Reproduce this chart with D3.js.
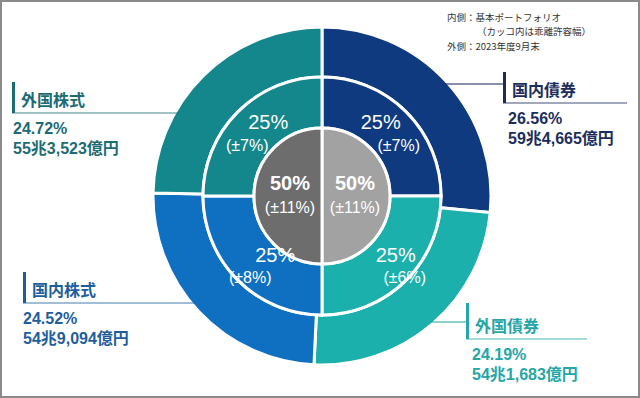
<!DOCTYPE html>
<html>
<head>
<meta charset="utf-8">
<script src="https://cdn.jsdelivr.net/npm/d3@7"></script>
<style>
  html, body { margin: 0; padding: 0; background: #fff; }
  svg { display: block; }
</style>
</head>
<body>
<script>
// data
var assets = ["国内債券", "外国債券", "国内株式", "外国株式"];
var actualShare = [26.56, 24.19, 24.52, 24.72];
var actualAmount = ["59兆4,665億円", "54兆1,683億円", "54兆9,094億円", "55兆3,523億円"];
var policyShare = [25, 25, 25, 25];
var policyBand = ["±7%", "±6%", "±8%", "±7%"];
var coreShare = [50, 50];          // bonds (right), equities (left)
var coreBand = ["±11%", "±11%"];
var legendLines = ["内側：基本ポートフォリオ", "（カッコ内は乖離許容幅）", "外側：2023年度9月末"];

var width = 640, height = 398;
var cx = 322, cy = 196;
var rCore = 68, rMid = 119, rOut = 169;

var fill = ["#0f3a80", "#1bb0ab", "#0f70c1", "#14878c"];
var coreFill = ["#a2a2a2", "#6d6d6d"];
var textColor = ["#1c2d5c", "#26a6a6", "#1f5e9c", "#1d6b73"];
var font = "'Liberation Sans', 'Noto Sans CJK JP', sans-serif";

var svg = d3.select("body").append("svg")
    .attr("width", width)
    .attr("height", height);

svg.append("rect")
    .attr("x", 1).attr("y", 1)
    .attr("width", width - 2).attr("height", height - 2)
    .attr("fill", "#fff")
    .attr("stroke", "#8a8a8a")
    .attr("stroke-width", 2);

var pie = d3.pie().sort(null).value(function(d) { return d; });

var g = svg.append("g")
    .attr("transform", "translate(" + cx + "," + cy + ")");

// outer ring: actual allocation
var outerArc = d3.arc().innerRadius(rMid).outerRadius(rOut);
g.append("g").selectAll("path")
    .data(pie(actualShare))
  .enter().append("path")
    .attr("d", outerArc)
    .attr("fill", function(d, i) { return fill[i]; })
    .attr("stroke", "#fff")
    .attr("stroke-width", 3);

// inner ring: policy portfolio
var midArc = d3.arc().innerRadius(rCore).outerRadius(rMid);
var midPie = pie(policyShare);
g.append("g").selectAll("path")
    .data(midPie)
  .enter().append("path")
    .attr("d", midArc)
    .attr("fill", function(d, i) { return fill[i]; })
    .attr("stroke", "#fff")
    .attr("stroke-width", 3);

// core: bonds / equities
var coreArc = d3.arc().innerRadius(0).outerRadius(rCore);
g.append("g").selectAll("path")
    .data(pie(coreShare))
  .enter().append("path")
    .attr("d", coreArc)
    .attr("fill", function(d, i) { return coreFill[i]; })
    .attr("stroke", "#fff")
    .attr("stroke-width", 3);

// inner ring labels, nudged off the arc centroid per quadrant
var labelArc = d3.arc().innerRadius(88).outerRadius(98);
var pctNudge = [[-7, -8], [8, -7], [19, -7], [12, -8]];
var bandNudge = [[11, 15], [17, 16], [-6, 16], [-9, 15]];
midPie.forEach(function(d, i) {
  var c = labelArc.centroid(d);
  g.append("text")
      .attr("x", c[0] + pctNudge[i][0])
      .attr("y", c[1] + pctNudge[i][1])
      .attr("dy", "0.35em")
      .attr("text-anchor", "middle")
      .attr("fill", "#fff")
      .style("font-family", font)
      .style("font-size", "20px")
      .text(d.data + "%");
  g.append("text")
      .attr("x", c[0] + bandNudge[i][0])
      .attr("y", c[1] + bandNudge[i][1])
      .attr("dy", "0.35em")
      .attr("text-anchor", "middle")
      .attr("fill", "#fff")
      .style("font-family", font)
      .style("font-size", "16px")
      .text("(" + policyBand[i] + ")");
});

// core labels
pie(coreShare).forEach(function(d, i) {
  var x = i === 0 ? 33 : -32;
  g.append("text")
      .attr("x", x).attr("y", -13)
      .attr("dy", "0.35em")
      .attr("text-anchor", "middle")
      .attr("fill", "#fff")
      .style("font-family", font)
      .style("font-size", "20px")
      .style("font-weight", "bold")
      .text(d.data + "%");
  g.append("text")
      .attr("x", x).attr("y", 11)
      .attr("dy", "0.35em")
      .attr("text-anchor", "middle")
      .attr("fill", "#fff")
      .style("font-family", font)
      .style("font-size", "16px")
      .text("(" + coreBand[i] + ")");
});

// callouts
var callout = [
  {bx: 503, y0: 72, y1: 103, link: 84, end: 627, tx: 5},
  {bx: 466, y0: 303, y1: 339, link: 322, end: 587, tx: 6},
  {bx: 23, y0: 272, y1: 303, link: null, end: null, tx: 0},
  {bx: 12, y0: 82, y1: 113, link: null, end: null, tx: 1}
];

function edgeX(y, side) {
  var dy = y - cy;
  return cx + side * Math.sqrt(rOut * rOut - dy * dy);
}

assets.forEach(function(name, i) {
  var c = callout[i];
  var col = textColor[i];
  var cg = svg.append("g");
  if (c.link !== null) {
    cg.append("line")
        .attr("x1", edgeX(c.link, 1) - 4).attr("x2", c.bx)
        .attr("y1", c.link).attr("y2", c.link)
        .attr("stroke", col).attr("stroke-opacity", 0.7)
        .attr("stroke-width", 1.5);
    cg.append("line")
        .attr("x1", c.bx).attr("x2", c.end)
        .attr("y1", c.y1).attr("y2", c.y1)
        .attr("stroke", col).attr("stroke-opacity", 0.55)
        .attr("stroke-width", 1.5);
  } else {
    cg.append("line")
        .attr("x1", c.bx).attr("x2", edgeX(c.y1, -1) + 4)
        .attr("y1", c.y1).attr("y2", c.y1)
        .attr("stroke", col).attr("stroke-opacity", 0.55)
        .attr("stroke-width", 1.5);
  }
  cg.append("rect")
      .attr("x", c.bx).attr("y", c.y0)
      .attr("width", 3).attr("height", c.y1 - c.y0)
      .attr("fill", col);
  cg.append("text")
      .attr("x", c.bx + 9).attr("y", c.y1 - 7)
      .attr("fill", col)
      .style("font-family", font)
      .style("font-size", "16px")
      .style("font-weight", "bold")
      .text(name);
  cg.append("text")
      .attr("x", c.bx + c.tx).attr("y", c.y1 + 21)
      .attr("fill", col)
      .style("font-family", font)
      .style("font-size", "16px")
      .style("font-weight", "bold")
      .text(actualShare[i].toFixed(2) + "%");
  cg.append("text")
      .attr("x", c.bx + c.tx).attr("y", c.y1 + 41)
      .attr("fill", col)
      .style("font-family", font)
      .style("font-size", "16px")
      .style("font-weight", "bold")
      .text(actualAmount[i]);
});

// note, top right
var legendX = [447, 477, 447];
var legendY = [21, 35, 50];
svg.append("g").selectAll("text")
    .data(legendLines)
  .enter().append("text")
    .attr("x", function(d, i) { return legendX[i]; })
    .attr("y", function(d, i) { return legendY[i]; })
    .attr("fill", "#333")
    .style("font-family", "'Noto Sans CJK JP', sans-serif")
    .style("font-size", "9.5px")
    .text(function(d) { return d; });
</script>
</body>
</html>
